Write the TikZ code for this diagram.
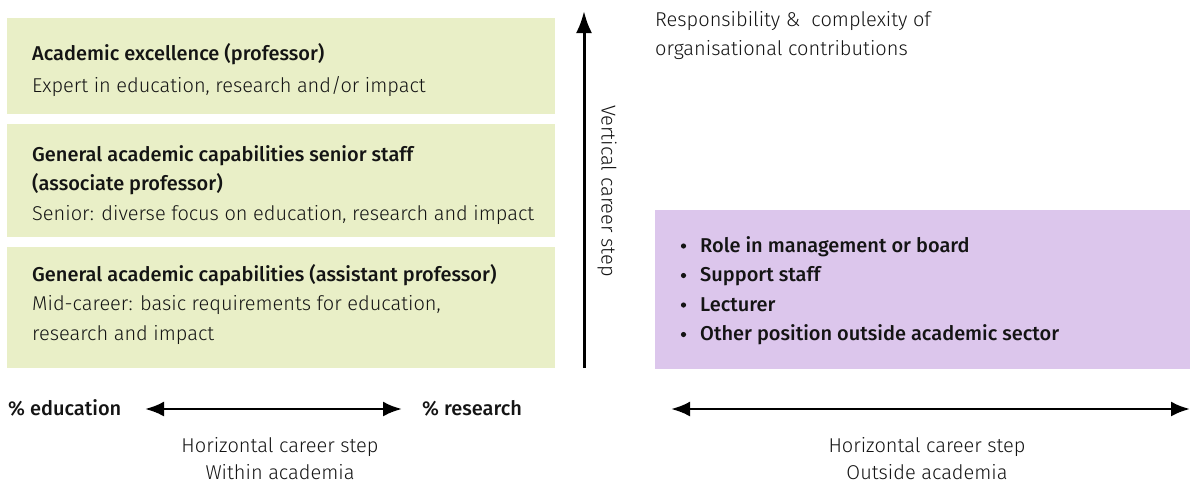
\documentclass[tikz,border=0pt]{standalone}
\usepackage{fontspec}
\setmainfont{Fira Sans Light}[BoldFont={Fira Sans Medium}]
\usetikzlibrary{arrows.meta}
\definecolor{boxgreen}{RGB}{233,239,199}
\definecolor{boxpurple}{RGB}{220,198,236}
\definecolor{txt}{RGB}{20,20,20}
\begin{document}
\begin{tikzpicture}[x=1pt,y=-1pt,
  lbl/.style={font=\fontsize{20}{29}\selectfont, text=txt, inner sep=0pt, anchor=base west},
  hd/.style={lbl, font=\fontsize{20}{29}\selectfont\bfseries},
  greenbox/.style={fill=boxgreen, draw=none},
  purplebox/.style={fill=boxpurple, draw=none},
  arr/.style={line width=3pt, -{Latex[length=22pt,width=16pt]}},
  darr/.style={line width=2.8pt, {Latex[length=19pt,width=15pt]}-{Latex[length=19pt,width=15pt]}}]
\useasboundingbox (0,0) rectangle (1190,483);
% green boxes
\fill[greenbox] (7,18) rectangle (555,114);
\fill[greenbox] (7,124) rectangle (555,237);
\fill[greenbox] (7,247) rectangle (555,368);
\fill[purplebox] (655,210) rectangle (1190,369);
% box texts
\node[hd] (h1) at (32,60) {Academic excellence (professor)};
\node[lbl] (s1) at (32,92) {Expert in education, research and/or impact};
\node[hd] (h2) at (32,161) {General academic capabilities senior staff};
\node[hd] (h2b) at (32,190) {(associate professor)};
\node[lbl] (s2) at (32,220) {Senior: diverse focus on education, research and impact};
\node[hd] (h3) at (32,281) {General academic capabilities (assistant professor)};
\node[lbl] (s3) at (32,310) {Mid-career: basic requirements for education,};
\node[lbl] (s3b) at (32,340) {research and impact};
% bullets
\foreach \t [count=\i] in {Role in management or board, Support staff, Lecturer, Other position outside academic sector} {
  \node[hd] (b\i) at (700,{252+(\i-1)*29.5}) {\t};
  \fill[txt] (683.5,{246+(\i-1)*29.5}) circle (2.6pt);
}
% vertical arrow
\coordinate (vb) at (584,368);
\coordinate (vt) at (584,11);
\draw[arr] (vb) -- (vt);
\node[lbl, anchor=center, rotate=-90] (vlab) at (607,191) {Vertical career step};
% top right text
\node[lbl] (tr1) at (655,26) {Responsibility \&\ \ complexity of};
\node[lbl] (tr2) at (655,55) {organisational contributions};
% horizontal arrows
\node[hd] (edu) at (8,415) {\% education};
\node[hd] (res) at (422,415) {\% research};
\coordinate (la) at (145,409);
\coordinate (lb) at (402,409);
\draw[darr] (la) -- (lb);
\coordinate (ra) at (671,409);
\coordinate (rb) at (1190,409);
\draw[darr] (ra) -- (rb);
\node[lbl, anchor=base] (hc1) at (280,452) {Horizontal career step};
\node[lbl, anchor=base] (hc2) at (280,479) {Within academia};
\node[lbl, anchor=base] (hc3) at (927,452) {Horizontal career step};
\node[lbl, anchor=base] (hc4) at (927,479) {Outside academia};
\end{tikzpicture}
\end{document}
